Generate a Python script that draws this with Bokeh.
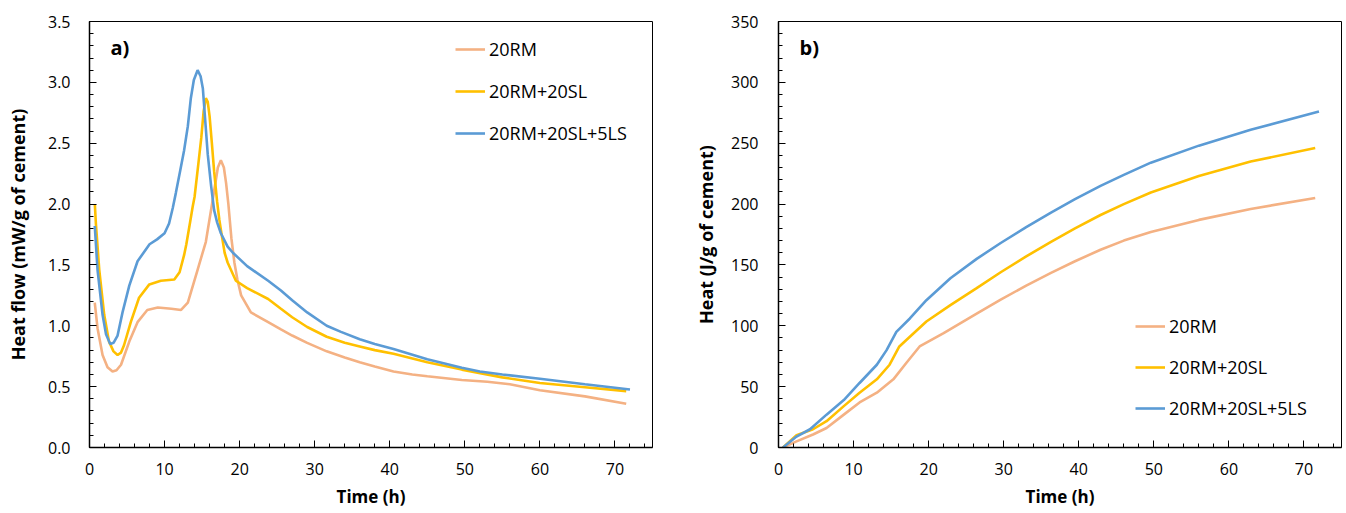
from bokeh.plotting import figure
from bokeh.models import (SingleIntervalTicker, Legend, LegendItem, Label,
                          NumeralTickFormatter, Range1d)
from bokeh.layouts import row
from bokeh.embed import file_html
from bokeh.resources import INLINE

# ---------------- data: a) heat flow (mW/g of cement) ----------------
t_rm_a = [0.7, 1.07, 1.74, 2.4, 3.07, 3.6, 4.2, 5.3, 6.4, 7.7, 9.1, 10.9, 12.2, 13.1,
          14.4, 15.5, 16.4, 17.1, 17.5, 17.9, 18.2, 18.5, 18.9, 19.3, 19.7, 20.2, 21.5,
          23.8, 25.5, 27, 29, 31.6, 34, 36, 38, 40.5, 43, 45, 49.6, 53, 56, 60, 66, 71.5]
v_rm_a = [1.19, 0.98, 0.76, 0.66, 0.625, 0.635, 0.68, 0.87, 1.03, 1.13, 1.15, 1.14, 1.13, 1.19,
          1.46, 1.69, 2.03, 2.30, 2.36, 2.30, 2.17, 2.0, 1.72, 1.52, 1.38, 1.25, 1.11,
          1.03, 0.97, 0.92, 0.86, 0.79, 0.74, 0.70, 0.665, 0.625, 0.60, 0.585, 0.555, 0.54,
          0.52, 0.47, 0.42, 0.36]

t_sl_a = [0.71, 0.85, 1.3, 1.96, 2.6, 3.2, 3.74, 4.2, 4.6, 5.5, 6.6, 7.97, 9.5, 11.3, 12.0,
          12.6, 12.9, 13.4, 13.75, 14.0, 14.5, 14.9, 15.2, 15.5, 15.75, 16.0, 16.3, 16.6,
          17.0, 17.3, 17.5, 18.0, 18.4, 19.5, 21, 23.8, 25.5, 27, 29, 31.6, 34, 36, 38, 40.5,
          45, 49.6, 55, 60, 66, 71.5]
v_sl_a = [2.0, 1.84, 1.46, 1.09, 0.87, 0.79, 0.76, 0.78, 0.84, 1.03, 1.23, 1.34, 1.37, 1.38, 1.44,
          1.58, 1.67, 1.85, 1.98, 2.06, 2.33, 2.55, 2.76, 2.87, 2.84, 2.72, 2.5, 2.27,
          2.02, 1.87, 1.79, 1.60, 1.52, 1.37, 1.31, 1.22, 1.14, 1.07, 0.99, 0.91, 0.86, 0.83,
          0.80, 0.77, 0.70, 0.64, 0.576, 0.53, 0.495, 0.463]

t_ls_a = [0.7, 1.07, 1.74, 2.2, 2.76, 3.2, 3.74, 4.4, 5.3, 6.4, 8.0, 9.0, 10.0, 10.6, 11.1,
          11.5, 12.1, 12.6, 13.1, 13.5, 13.9, 14.4, 14.8, 15.1, 15.4, 15.75, 16.2, 16.6,
          17.0, 17.5, 18.4, 19.1, 21, 23.8, 25.5, 27, 29, 31.6, 33.5, 36, 38, 40.5, 45, 49.6,
          52, 55, 60, 66, 72]
v_ls_a = [1.82, 1.46, 1.09, 0.93, 0.85, 0.86, 0.92, 1.11, 1.33, 1.53, 1.67, 1.71, 1.76, 1.84, 1.97,
          2.09, 2.28, 2.44, 2.64, 2.87, 3.02, 3.10, 3.05, 2.95, 2.70, 2.41, 2.15, 1.95,
          1.85, 1.76, 1.65, 1.60, 1.49, 1.37, 1.29, 1.21, 1.11, 1.0, 0.95, 0.89, 0.85, 0.81,
          0.725, 0.655, 0.625, 0.60, 0.565, 0.52, 0.476]

# ---------------- data: b) cumulative heat (J/g of cement) ----------------
t_rm_b = [0.6, 2.4, 4.6, 6.4, 8.7, 10.8, 13.1, 15.3, 17.1, 18.8, 22, 26.4, 29.6, 33, 36.3,
          39.5, 42.9, 46, 49.6, 56, 62.9, 71.5]
v_rm_b = [0, 5, 10.7, 16, 27, 37, 45, 56, 70, 83, 94, 110, 121.5, 133, 143.5,
          153, 162.5, 170, 177, 187, 196, 205]

t_sl_b = [0.6, 2.4, 4.6, 6.4, 8.7, 10.8, 13.1, 14.8, 16.1, 17.5, 19.7, 22.9, 26.4, 29.6, 33,
          36.3, 39.5, 42.9, 46, 49.6, 56, 62.9, 71.5]
v_sl_b = [0, 10, 15, 21.6, 34, 45, 56, 68, 83, 91, 103.5, 117, 131, 144, 157,
          169, 180, 191, 200, 209.5, 223, 235, 246]

t_ls_b = [0.6, 2.4, 4.2, 6.4, 8.7, 10.8, 13.1, 14.4, 15.7, 17.5, 19.7, 22.9, 26.4, 29.6, 33,
          36.3, 39.5, 42.9, 46, 49.6, 56, 62.9, 72]
v_ls_b = [0, 9, 15, 27, 39, 53, 68, 80, 95, 106, 121, 139, 155, 168, 181,
          193, 204, 215, 224, 234, 248, 261, 276]

series_names = ["20RM", "20RM+20SL", "20RM+20SL+5LS"]
colors = ["#F4B183", "#FFC000", "#5B9BD5"]

FONT = "Open Sans"


def style_axes(p, ystand, ylab_stand):
    for ax in (p.xaxis[0], p.yaxis[0]):
        ax.axis_line_color = "black"
        ax.axis_line_width = 1.5
        ax.major_tick_line_color = "black"
        ax.minor_tick_line_color = "black"
        ax.major_tick_in = 7
        ax.major_tick_out = 0
        ax.minor_tick_in = 4
        ax.minor_tick_out = 0
        ax.major_label_text_font = FONT
        ax.major_label_text_font_size = "16px"
        ax.major_label_text_color = "black"
        ax.axis_label_text_font = FONT
        ax.axis_label_text_font_style = "bold"
        ax.axis_label_text_color = "black"
    p.xaxis[0].axis_label_text_font_size = "17px"
    p.yaxis[0].axis_label_text_font_size = "18px"
    p.xaxis[0].major_label_standoff = 15
    p.xaxis[0].axis_label_standoff = 7
    p.yaxis[0].major_label_standoff = ystand
    p.yaxis[0].axis_label_standoff = ylab_stand
    p.xgrid.visible = False
    p.ygrid.visible = False
    p.outline_line_color = "black"
    p.outline_line_width = 1


def make_panel(width, height, bl, bt, bb, br, yrange, yint, ylabel, data, panel_label,
               leg_loc, leg_spacing, ystand, ylab_stand):
    p = figure(width=width, height=height, output_backend="svg", toolbar_location=None,
               x_range=Range1d(0, 75), y_range=Range1d(0, yrange),
               min_border_left=bl, min_border_top=bt, min_border_bottom=bb,
               min_border_right=br, background_fill_color="white",
               border_fill_color="white")
    p.xaxis.ticker = SingleIntervalTicker(interval=10, num_minor_ticks=5)
    p.yaxis.ticker = SingleIntervalTicker(interval=yint, num_minor_ticks=5)
    p.xaxis.axis_label = "Time (h)"
    p.yaxis.axis_label = ylabel
    items = []
    for (tx, vy), name, col in zip(data, series_names, colors):
        r = p.line(tx, vy, line_color=col, line_width=2.6)
        items.append(LegendItem(label=name, renderers=[r]))
    leg = Legend(items=items, location=leg_loc, padding=0, margin=0,
                 spacing=leg_spacing, glyph_width=30, glyph_height=20,
                 label_height=20, label_standoff=4,
                 label_text_font=FONT, label_text_font_size="18px",
                 label_text_color="black",
                 background_fill_alpha=0, border_line_alpha=0)
    p.add_layout(leg)
    style_axes(p, ystand, ylab_stand)
    p.add_layout(Label(x=21, y=400, x_units="screen", y_units="screen", text=panel_label,
                       text_font=FONT, text_font_size="20px", text_font_style="bold",
                       text_color="black", text_baseline="middle"))
    return p


p1 = make_panel(690, 513, 89, 16, 66, 38, 3.5, 0.5, "Heat flow (mW/g of cement)",
                [(t_rm_a, v_rm_a), (t_sl_a, v_sl_a), (t_ls_a, v_ls_a)], "a)",
                (366, 302), 18, 19, 15)
p1.yaxis[0].formatter = NumeralTickFormatter(format="0.0")

p2 = make_panel(656, 513, 88, 21, 65, 5, 350, 50, "Heat (J/g of cement)",
                [(t_rm_b, v_rm_b), (t_sl_b, v_sl_b), (t_ls_b, v_ls_b)], "b)",
                (357, 27), 17, 20, 10)

layout = row(p1, p2, spacing=0)
open("out.html", "w").write(file_html(layout, INLINE))
